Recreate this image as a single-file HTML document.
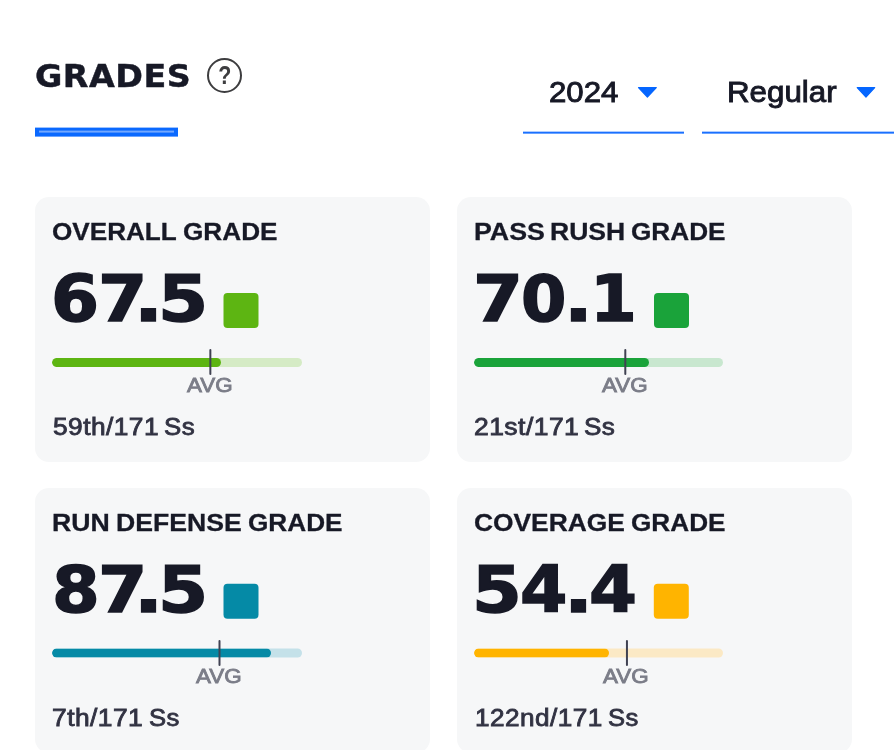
<!DOCTYPE html>
<html lang="en">
<head>
<meta charset="utf-8">
<title>Grades</title>
<style>
*{box-sizing:border-box;margin:0;padding:0}
html,body{width:894px;height:750px;overflow:hidden;background:#fff}
body{position:relative;font-family:"Liberation Sans",sans-serif;color:#171926}
.abs{position:absolute;white-space:nowrap;line-height:1}
.sx{display:inline-block;transform-origin:0 0}
h1.title{left:0;top:60.2px;height:32.3px;font-family:"DejaVu Sans","Liberation Sans",sans-serif;font-size:32.3px;font-weight:700;letter-spacing:.5px;-webkit-text-stroke:0.45px #171926}

.help{left:207px;top:58px;width:35px;height:35px;border:2.4px solid #3d3d3f;border-radius:50%;font-size:25.5px;font-weight:700;color:#3d3d3f;text-align:center;line-height:30.5px}
.help span{display:inline-block;transform:scaleX(.84)}
.tab{left:35px;top:128px;width:143px;height:9px;background:#0a69ff;transform:translateY(-.4px)}
.tab i{position:absolute;left:4px;right:4px;top:3px;height:2px;background:#72a8ff}
.sel{left:0;font-size:29.6px;height:29.6px;font-weight:400;-webkit-text-stroke:.9px #171926;top:76.6px;transform:translateY(-.4px)}
.sel2{font-size:28.6px;height:28.6px;top:77.5px;transform:translateY(-.3px)}
.tri{width:24px;height:16px;top:84px;overflow:visible}
.tri polygon{fill:#0566ff;stroke:#0566ff;stroke-width:1.2;stroke-linejoin:round}
.ul{height:2px;background:#1a70ff;top:132px;transform:translateY(-.35px)}
.card{position:absolute;width:395px;height:265px;border-radius:14px;background:#f6f7f8}
.w span{position:absolute;top:0;left:0;transform-origin:0 0;white-space:pre}
.lbl{left:0;top:22.9px;height:24.8px;font-size:24.8px;font-weight:700;-webkit-text-stroke:0.3px #171926}
.num{left:0;top:70.3px;height:64px;font-family:"DejaVu Sans","Liberation Sans",sans-serif;font-size:64px;font-weight:700;-webkit-text-stroke:1.5px #171926}
.sq{left:0;top:96px;width:35px;height:35px;border-radius:4px}
.bar{top:161px;height:9px;border-radius:5px;overflow:hidden}
.bar b{position:absolute;left:0;top:0;bottom:0;border-radius:5px}
.tick{left:0;top:152px;width:2px;height:26.4px;border-radius:1px;background:#404252}
.avg{left:0;top:177.6px;height:20.4px;font-size:20.4px;color:#7b7d88;-webkit-text-stroke:0.85px #7b7d88}
.rank{left:0;top:219.0px;height:23.3px;font-size:23.3px;letter-spacing:.4px;color:#313242;-webkit-text-stroke:0.8px #313242}
</style>
</head>
<body>
<h1 class="abs w title"><span style="left:35.2px;transform:scaleX(1.032)">GRADES</span></h1>
<div class="abs help"><span>?</span></div>
<div class="abs tab"><i></i></div>

<div class="abs w sel"><span style="left:548.8px;transform:scaleX(1.055)">2024</span></div>
<svg class="abs tri" style="left:635px" viewBox="0 0 24 16" aria-hidden="true"><polygon points="3.5,3.7 21.3,3.7 12.4,13"/></svg>
<div class="abs ul" style="left:523px;width:161.3px"></div>
<div class="abs w sel sel2"><span style="left:727.3px;transform:scaleX(1.094)">Regular</span></div>
<svg class="abs tri" style="left:853px" viewBox="0 0 24 16" aria-hidden="true"><polygon points="4.2,3.7 21.7,3.7 12.95,13"/></svg>
<div class="abs ul" style="left:702px;width:192px"></div>

<section class="card" style="left:35px;top:197px">
  <div class="abs w lbl"><span style="left:17.4px;transform:scaleX(1.053)">OVERALL </span><span style="left:148.4px;transform:scaleX(1.056)">GRADE</span></div>
  <div class="abs w num"><span style="left:16.3px;transform:scaleX(1.079)">6</span><span style="left:62.9px;transform:scaleX(1.108)">7</span><span style="left:99.0px;transform:scaleX(1.193)">.</span><span style="left:122.5px;transform:scaleX(1.127)">5</span></div>
  <div class="abs sq" style="transform:translate(188.5px,0.0px);background:#5db512"></div>
  <div class="abs bar" style="left:17px;width:250px;background:#d5ebc5;transform:translateY(0px)"><b style="width:67.5%;background:#5db512"></b></div>
  <div class="abs tick" style="transform:translateX(174.35px)"></div>
  <div class="abs w avg"><span style="left:151.7px;transform:scaleX(1.099)">AVG</span></div>
  <div class="abs w rank"><span style="left:17.6px;transform:scaleX(1.129)">59th/171 </span><span style="left:128.9px;transform:scaleX(1.109)">Ss</span></div>
</section>
<section class="card" style="left:457px;top:197px">
  <div class="abs w lbl"><span style="left:17.0px;transform:scaleX(1.079)">PASS </span><span style="left:93.1px;transform:scaleX(1.071)">RUSH </span><span style="left:174.4px;transform:scaleX(1.056)">GRADE</span></div>
  <div class="abs w num"><span style="left:15.5px;transform:scaleX(1.124)">7</span><span style="left:64.0px;transform:scaleX(1.020)">0</span><span style="left:106.8px;transform:scaleX(1.185)">.</span><span style="left:133.1px;transform:scaleX(1.053)">1</span></div>
  <div class="abs sq" style="transform:translate(197.0px,0.0px);background:#1aa33a"></div>
  <div class="abs bar" style="left:17px;width:249px;background:#c8e7cf;transform:translateY(0px)"><b style="width:70.1%;background:#1aa33a"></b></div>
  <div class="abs tick" style="transform:translateX(167.30px)"></div>
  <div class="abs w avg"><span style="left:144.8px;transform:scaleX(1.099)">AVG</span></div>
  <div class="abs w rank"><span style="left:16.6px;transform:scaleX(1.137)">21st/171 </span><span style="left:127.1px;transform:scaleX(1.120)">Ss</span></div>
</section>
<section class="card" style="left:35px;top:488px">
  <div class="abs w lbl"><span style="left:17.4px;transform:scaleX(1.075)">RUN </span><span style="left:80.9px;transform:scaleX(1.073)">DEFENSE </span><span style="left:212.8px;transform:scaleX(1.056)">GRADE</span></div>
  <div class="abs w num"><span style="left:17.0px;transform:scaleX(1.073)">8</span><span style="left:62.9px;transform:scaleX(1.108)">7</span><span style="left:99.0px;transform:scaleX(1.193)">.</span><span style="left:122.5px;transform:scaleX(1.127)">5</span></div>
  <div class="abs sq" style="transform:translate(188.5px,-0.2px);background:#058aa6"></div>
  <div class="abs bar" style="left:17px;width:250px;background:#c4e1e9;transform:translateY(-0.5px)"><b style="width:87.5%;background:#058aa6"></b></div>
  <div class="abs tick" style="transform:translateX(183.50px)"></div>
  <div class="abs w avg"><span style="left:160.8px;transform:scaleX(1.099)">AVG</span></div>
  <div class="abs w rank"><span style="left:17.1px;transform:scaleX(1.133)">7th/171 </span><span style="left:114.1px;transform:scaleX(1.101)">Ss</span></div>
</section>
<section class="card" style="left:457px;top:488px">
  <div class="abs w lbl"><span style="left:16.8px;transform:scaleX(1.063)">COVERAGE </span><span style="left:174.4px;transform:scaleX(1.056)">GRADE</span></div>
  <div class="abs w num"><span style="left:14.8px;transform:scaleX(1.119)">5</span><span style="left:62.8px;transform:scaleX(1.064)">4</span><span style="left:106.7px;transform:scaleX(1.193)">.</span><span style="left:131.7px;transform:scaleX(1.077)">4</span></div>
  <div class="abs sq" style="transform:translate(196.8px,-0.2px);background:#ffb400"></div>
  <div class="abs bar" style="left:17px;width:249px;background:#fbe9c5;transform:translateY(-0.5px)"><b style="width:54.4%;background:#ffb400"></b></div>
  <div class="abs tick" style="transform:translateX(168.95px)"></div>
  <div class="abs w avg"><span style="left:146.4px;transform:scaleX(1.099)">AVG</span></div>
  <div class="abs w rank"><span style="left:17.6px;transform:scaleX(1.123)">122nd/171 </span><span style="left:150.9px;transform:scaleX(1.098)">Ss</span></div>
</section>
</body>
</html>
